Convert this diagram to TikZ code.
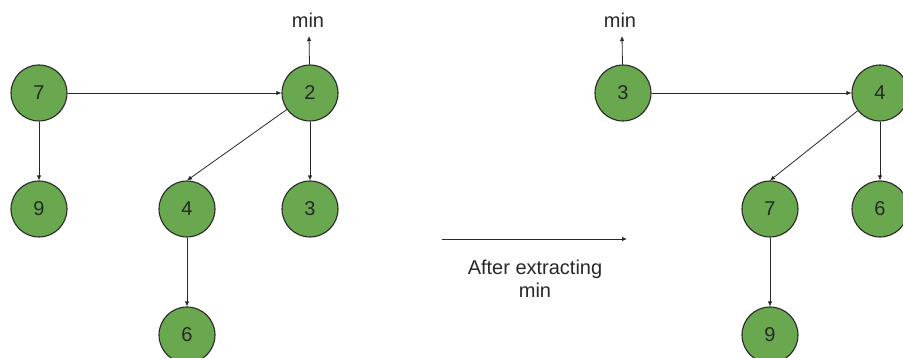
\documentclass[tikz,border=0pt]{standalone}
\usepackage{fontspec}
\setmainfont{Liberation Sans}
\usetikzlibrary{arrows.meta}
\definecolor{G4}{RGB}{106,168,79}
\definecolor{D4}{RGB}{40,40,40}
\begin{document}
\begin{tikzpicture}[x=1pt, y=-1pt,
    key/.style={circle, draw=D4, line width=1.1pt, fill=G4, minimum size=56pt, inner sep=0pt,
                text=D4, font=\fontsize{20}{23}\selectfont},
    lbl/.style={text=D4, font=\fontsize{20}{23}\selectfont, align=center},
    link/.style={D4, line width=0.8pt, -{Latex[length=5pt,width=4.5pt]}}]
      \useasboundingbox (0,0) rectangle (903,358);
      % heap before
      \node[key] (a7) at (39, 93) {7};
      \node[key] (a2) at (310, 93) {2};
      \node[key] (a9) at (39, 209) {9};
      \node[key] (a4) at (187, 209) {4};
      \node[key] (a3) at (310, 209) {3};
      \node[key] (a6) at (187, 335) {6};
      \coordinate (amin) at (309, 36);
      \node[lbl] (aminl) at (308, 20) {min};
      \draw[link] (a7) -- (a2);
      \draw[link] (a7) -- (a9);
      \draw[link] (a2) -- (a4.north);
      \draw[link] (a2) -- (a3);
      \draw[link] (a4) -- (a6);
      \draw[link] (a2) -- (amin);
      % operation
      \coordinate (os) at (442, 239);
      \coordinate (oe) at (627, 239);
      \draw[link] (os) -- (oe);
      \node[lbl] (ol) at (535, 279) {After extracting\\min};
      % heap after
      \node[key] (b3) at (623, 93) {3};
      \node[key] (b4) at (880, 93) {4};
      \node[key] (b7) at (770, 209) {7};
      \node[key] (b6) at (880, 209) {6};
      \node[key] (b9) at (770, 335) {9};
      \coordinate (bmin) at (622, 36);
      \node[lbl] (bminl) at (620, 20) {min};
      \draw[link] (b3) -- (b4);
      \draw[link] (b4) -- (b7.north);
      \draw[link] (b4) -- (b6);
      \draw[link] (b7) -- (b9);
      \draw[link] (b3) -- (bmin);
    \end{tikzpicture}
\end{document}
